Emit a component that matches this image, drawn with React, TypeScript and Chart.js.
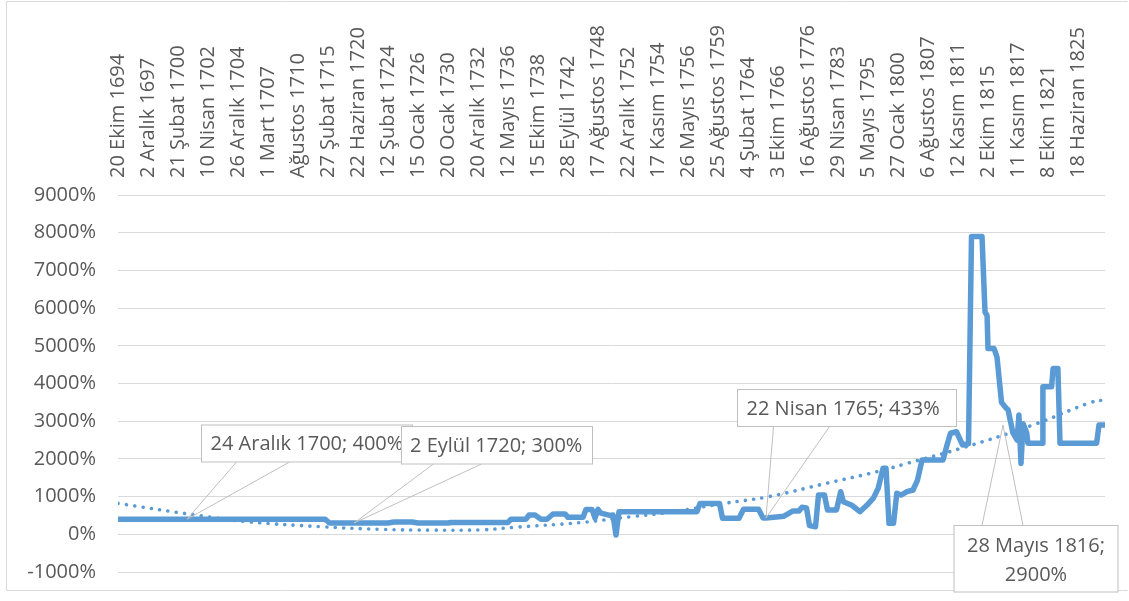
import React, { useEffect, useRef } from 'react';
import { Chart, registerables } from 'chart.js';

Chart.register(...registerables);

// Category tick labels (one label every 10 observations)
const tickLabels = [
  '20 Ekim 1694', '2 Aralık 1697', '21 Şubat 1700', '10 Nisan 1702', '26 Aralık 1704',
  '1 Mart 1707', 'Ağustos 1710', '27 Şubat 1715', '22 Haziran 1720', '12 Şubat 1724',
  '15 Ocak 1726', '20 Ocak 1730', '20 Aralık 1732', '12 Mayıs 1736', '15 Ekim 1738',
  '28 Eylül 1742', '17 Ağustos 1748', '22 Aralık 1752', '17 Kasım 1754', '26 Mayıs 1756',
  '25 Ağustos 1759', '4 Şubat 1764', '3 Ekim 1766', '16 Ağustos 1776', '29 Nisan 1783',
  '5 Mayıs 1795', '27 Ocak 1800', '6 Ağustos 1807', '12 Kasım 1811', '2 Ekim 1815',
  '11 Kasım 1817', '8 Ekim 1821', '18 Haziran 1825',
];
const TICK_EVERY = 10;
const LAST_OBS = 329;

// Main series: observation number -> value (%)
const obsIndex = [
  0, 69, 70.5, 90, 92, 98, 100, 110, 111, 130,
  131, 136, 137, 139, 141, 143, 145, 149, 150, 155,
  156, 158, 159, 160, 161, 164, 165, 166, 167, 193,
  194, 200.5, 201.5, 207, 208.5, 213.5, 215, 216, 222, 225,
  227, 228, 229.5, 230.5, 232.5, 233.5, 235.5, 236.5, 239.5, 240.9,
  241.8, 244.6, 247.3, 249.6, 251.8, 253.4, 255, 256, 257, 258.5,
  259.6, 261, 263, 265, 266.5, 268, 275, 276.5, 277.5, 279.5,
  281.5, 283.5, 284.5, 288, 289, 289.7, 290, 292, 293, 294.5,
  296, 296.7, 298.3, 299.7, 300.3, 301, 301.7, 302.9, 303.3, 308,
  308.3, 311.2, 311.7, 313.3, 314, 326.2, 327, 329,
];
const rate = [
  400, 400, 300, 300, 325, 325, 300, 300, 315, 315,
  400, 400, 510, 510, 400, 400, 540, 540, 450, 450,
  660, 660, 430, 660, 560, 500, 510, -20, 600, 600,
  820, 820, 425, 425, 663, 663, 433, 433, 480, 620,
  620, 720, 700, 230, 200, 1040, 1040, 645, 645, 1130,
  865, 770, 600, 770, 960, 1220, 1750, 1750, 290, 290,
  1090, 1040, 1130, 1175, 1440, 1970, 1970, 2415, 2680, 2720,
  2370, 2400, 7900, 7900, 5900, 5800, 4930, 4930, 4700, 3500,
  3350, 3300, 2690, 2500, 3165, 1880, 2930, 2690, 2415, 2415,
  3915, 3915, 4400, 4400, 2415, 2415, 2900, 2900,
];

// Dotted trend line
const trendIndex = [0, 26, 43, 68, 88, 105, 121, 132, 154, 171, 184, 202, 217, 236, 253, 263, 281, 305, 324, 329];
const trendRate = [820, 510, 335, 200, 130, 110, 118, 185, 310, 467, 585, 820, 1000, 1350, 1660, 1880, 2280, 2900, 3490, 3570];

// Y axis
const Y_MIN = -1000;
const Y_MAX = 9000;
const Y_STEP = 1000;

// Data callouts
const calloutText = [
  ['24 Aralık 1700; 400%'],
  ['2 Eylül 1720; 300%'],
  ['22 Nisan 1765; 433%'],
  ['28 Mayıs 1816;', '2900%'],
];
const calloutObs = [23, 78.7, 216, 295];
const calloutValue = [400, 300, 433, 2900];

// Callout box layout (pixels) — style only
const calloutLayout = [
  { left: 201.5, top: 425, w: 211, h: 37, a: 35, b: 88, side: 'bottom', align: 'left', pad: 9 },
  { left: 401.5, top: 426.5, w: 191, h: 37.5, a: 32, b: 80, side: 'bottom', align: 'left', pad: 8.5 },
  { left: 737.5, top: 389.5, w: 219, h: 37, a: 36, b: 92, side: 'bottom', align: 'left', pad: 9 },
  { left: 954, top: 525.5, w: 164, h: 66.5, a: 28, b: 69, side: 'top', align: 'center', pad: 0 },
];

const FONT = '"Open Sans", "DejaVu Sans", sans-serif';
const TEXT = '#595959';

const calloutPlugin = {
  id: 'callouts',
  afterDraw(chart: any) {
    const { ctx } = chart;
    const xs = chart.scales.x;
    const ys = chart.scales.y;
    ctx.save();
    ctx.strokeStyle = '#d9d9d9';
    ctx.lineWidth = 1;
    ctx.beginPath();
    ctx.moveTo(6.5, 1.5);
    ctx.lineTo(1127.5, 1.5);
    ctx.moveTo(6.5, 1.5);
    ctx.lineTo(6.5, 590.5);
    ctx.lineTo(1127.5, 590.5);
    ctx.stroke();

    calloutText.forEach((lines, k) => {
      const b = calloutLayout[k];
      const px = xs.getPixelForValue(calloutObs[k]);
      const py = ys.getPixelForValue(calloutValue[k]);
      const edgeY = b.side === 'bottom' ? b.top + b.h : b.top;
      ctx.strokeStyle = '#bfbfbf';
      ctx.lineWidth = 1;
      ctx.beginPath();
      ctx.moveTo(b.left + b.a, edgeY);
      ctx.lineTo(px, py);
      ctx.lineTo(b.left + b.b, edgeY);
      ctx.stroke();
      ctx.fillStyle = '#ffffff';
      ctx.fillRect(b.left, b.top, b.w, b.h);
      ctx.strokeRect(b.left, b.top, b.w, b.h);
      ctx.fillStyle = TEXT;
      ctx.font = `20px ${FONT}`;
      ctx.textBaseline = 'middle';
      if (lines.length === 1) {
        ctx.textAlign = 'left';
        ctx.fillText(lines[0], b.left + b.pad, b.top + b.h / 2 + 1);
      } else {
        ctx.textAlign = 'center';
        const cx = b.left + b.w / 2;
        ctx.fillText(lines[0], cx, b.top + 20.5);
        ctx.fillText(lines[1], cx, b.top + 50);
      }
    });
    ctx.restore();
  },
};

export default function App() {
  const ref = useRef<HTMLCanvasElement | null>(null);

  useEffect(() => {
    if (!ref.current) return;
    const chart = new Chart(ref.current, {
      type: 'line',
      data: {
        datasets: [
          {
            label: 'Oran',
            data: obsIndex.map((x, k) => ({ x, y: rate[k] })),
            borderColor: '#5B9BD5',
            borderWidth: 5.5,
            pointRadius: 0,
            borderJoinStyle: 'round',
            borderCapStyle: 'butt',
            tension: 0,
            order: 1,
          },
          {
            label: 'Eğilim',
            data: trendIndex.map((x, k) => ({ x, y: trendRate[k] })),
            borderColor: '#5B9BD5',
            borderWidth: 3.6,
            borderDash: [0.01, 8.4],
            borderCapStyle: 'round',
            pointRadius: 0,
            tension: 0.4,
            order: 2,
          },
        ],
      },
      plugins: [calloutPlugin],
      options: {
        animation: false,
        responsive: false,
        devicePixelRatio: 1,
        layout: { padding: { left: 0, top: 0, right: 24, bottom: 29 } },
        plugins: { legend: { display: false }, tooltip: { enabled: false } },
        scales: {
          x: {
            type: 'linear',
            position: 'top',
            min: 0,
            max: LAST_OBS,
            grid: { display: false, drawTicks: false },
            border: { display: false },
            afterFit: (s: any) => { s.height = 195; },
            afterBuildTicks: (s: any) => {
              s.ticks = tickLabels.map((_, k) => ({ value: k * TICK_EVERY }));
            },
            ticks: {
              autoSkip: false,
              minRotation: 90,
              maxRotation: 90,
              padding: 17,
              labelOffset: 24.5,
              color: TEXT,
              font: { family: FONT, size: 20 },
              callback: (v: any) => tickLabels[Math.round(Number(v) / TICK_EVERY)] ?? '',
            },
          },
          y: {
            type: 'linear',
            min: Y_MIN,
            max: Y_MAX,
            grid: { color: '#d9d9d9', drawTicks: false, lineWidth: 1 },
            border: { display: false },
            afterFit: (s: any) => {
              s.width = 118;
              s.paddingTop = 0;
              s.paddingBottom = 0;
            },
            ticks: {
              stepSize: Y_STEP,
              padding: 22,
              color: TEXT,
              font: { family: FONT, size: 20 },
              callback: (v: any) => `${v}%`,
            },
          },
        },
      },
    } as any);
    return () => chart.destroy();
  }, []);

  return (
    <div style={{ position: 'absolute', left: 0, top: 0, width: 1129, height: 601, background: '#fff' }}>
      <canvas ref={ref} width={1129} height={601} style={{ display: 'block' }} />
    </div>
  );
}
